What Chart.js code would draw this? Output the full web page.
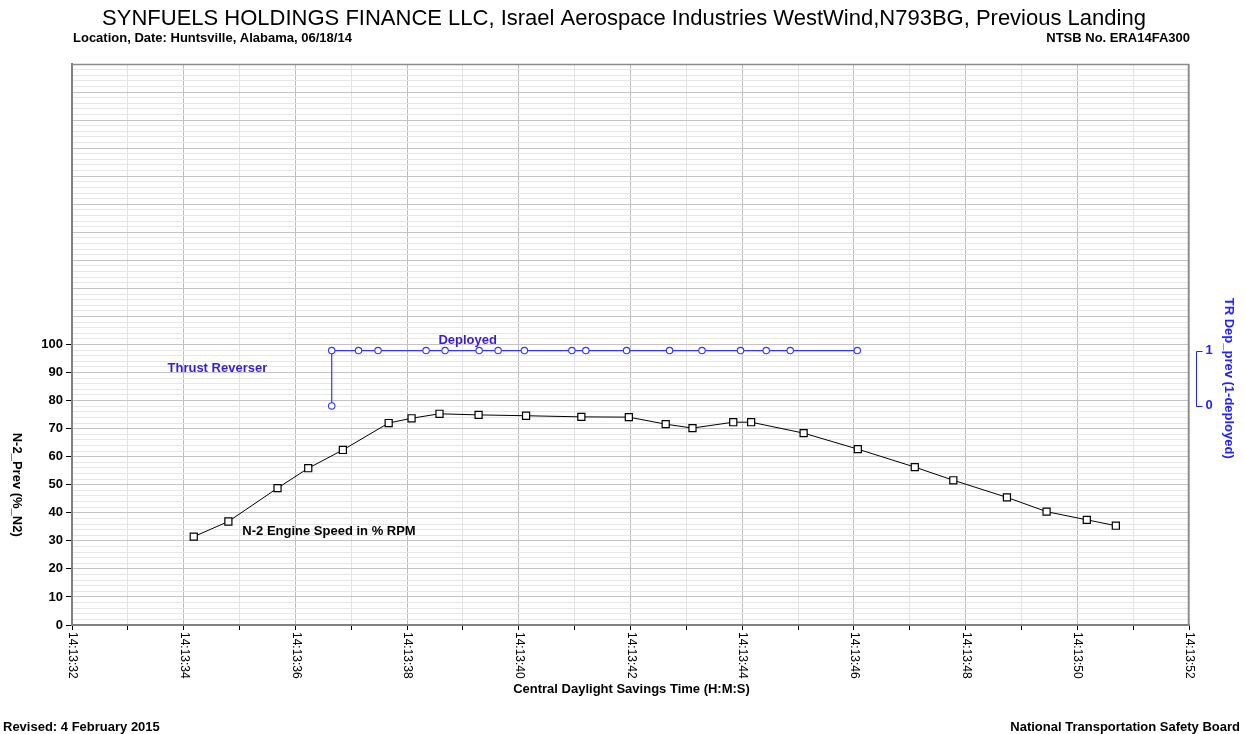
<!DOCTYPE html>
<html>
<head>
<meta charset="utf-8">
<title>N-2 Engine Speed and Thrust Reverser</title>
<script src="https://cdn.jsdelivr.net/npm/chart.js@4.4.1/dist/chart.umd.min.js"></script>
<style>
  html, body { margin: 0; padding: 0; background: #ffffff; }
  #wrap { width: 1245px; height: 734px; }
</style>
</head>
<body>
<div id="wrap"><canvas id="chart" width="1245" height="734"></canvas></div>
<script>
// Time is expressed as seconds past 14:13:00 (Central Daylight Savings Time)
const timePrefix = '14:13:';

// N-2 engine speed (% RPM)
const n2Seconds = [34.18, 34.80, 35.68, 36.23, 36.85, 37.67, 38.08, 38.58, 39.28, 40.13, 41.12, 41.97,
                   42.63, 43.11, 43.84, 44.16, 45.10, 46.07, 47.09, 47.78, 48.74, 49.45, 50.17, 50.69];
const n2Values  = [31.5, 36.9, 48.8, 55.9, 62.4, 72.0, 73.7, 75.3, 74.9, 74.6, 74.2, 74.1,
                   71.6, 70.2, 72.3, 72.3, 68.4, 62.7, 56.3, 51.6, 45.5, 40.4, 37.5, 35.4];

// Thrust reverser discrete (1 = deployed)
const trSeconds = [36.65, 36.65, 37.13, 37.48, 38.34, 38.68, 39.29, 39.63, 40.10, 40.95, 41.20,
                   41.93, 42.70, 43.28, 43.97, 44.43, 44.86, 46.06];
const trValues  = [0, 1, 1, 1, 1, 1, 1, 1, 1, 1, 1, 1, 1, 1, 1, 1, 1, 1];

// Axis ticks
const xTickSeconds = [32, 34, 36, 38, 40, 42, 44, 46, 48, 50, 52];
const leftTickValues = [0, 10, 20, 30, 40, 50, 60, 70, 80, 90, 100];
const rightTickValues = [0, 1];

// Text
const titleText = 'SYNFUELS HOLDINGS FINANCE LLC, Israel Aerospace Industries WestWind,N793BG, Previous Landing';
const locationText = 'Location, Date: Huntsville, Alabama, 06/18/14';
const caseText = 'NTSB No. ERA14FA300';
const revisedText = 'Revised: 4 February 2015';
const agencyText = 'National Transportation Safety Board';
const xTitle = 'Central Daylight Savings Time (H:M:S)';
const leftTitle = 'N-2_Prev (%_N2)';
const rightTitle = 'TR Dep_prev (1-deployed)';
const n2Label = 'N-2 Engine Speed in % RPM';
const trLabel = 'Thrust Reverser';
const deployedLabel = 'Deployed';

const FONT = '"Liberation Sans", Arial, Helvetica, sans-serif';
const BLUE_LINE = '#3535ff';
const BLUE_TEXT = '#3a1ccc';
const BLUE_AXIS = '#2222ff';

const toPoints = (xs, ys) => xs.map((x, i) => ({ x: x, y: ys[i] }));
const pad2 = v => String(v).padStart(2, '0');

const decor = {
  id: 'decor',
  afterDraw(chart) {
    const { ctx, chartArea: a } = chart;
    const x = chart.scales.x, y = chart.scales.y, y2 = chart.scales.y2;
    ctx.save();

    // top and right edges of the plot frame
    ctx.strokeStyle = '#8c8c8c';
    ctx.lineWidth = 1.5;
    ctx.beginPath();
    ctx.moveTo(a.left, a.top + 0.5);
    ctx.lineTo(a.right - 0.5, a.top + 0.5);
    ctx.lineTo(a.right - 0.5, a.bottom);
    ctx.stroke();

    // headings
    ctx.fillStyle = '#000';
    ctx.textBaseline = 'alphabetic';
    ctx.font = '22px ' + FONT;
    ctx.textAlign = 'center';
    ctx.fillText(titleText, 624, 25);
    ctx.font = 'bold 13px ' + FONT;
    ctx.textAlign = 'left';
    ctx.fillText(locationText, 73, 42);
    ctx.textAlign = 'right';
    ctx.fillText(caseText, 1190, 42);
    ctx.textAlign = 'left';
    ctx.fillText(revisedText, 3, 731);
    ctx.textAlign = 'right';
    ctx.fillText(agencyText, 1240, 731);

    // x tick labels, rotated clockwise
    ctx.font = '12px ' + FONT;
    ctx.textAlign = 'left';
    ctx.textBaseline = 'middle';
    xTickSeconds.forEach(s => {
      const px = x.getPixelForValue(s);
      ctx.save();
      ctx.translate(px + 0.5, a.bottom + 7);
      ctx.rotate(Math.PI / 2);
      ctx.fillText(timePrefix + pad2(s), 0, 0);
      ctx.restore();
    });

    // x axis title
    ctx.font = 'bold 13px ' + FONT;
    ctx.textAlign = 'center';
    ctx.fillText(xTitle, (a.left + a.right) / 2 + 1, 689);

    // left axis title, centred on the labelled range
    const yMid = (y.getPixelForValue(leftTickValues[0]) + y.getPixelForValue(leftTickValues[leftTickValues.length - 1])) / 2;
    ctx.save();
    ctx.translate(17, yMid);
    ctx.rotate(Math.PI / 2);
    ctx.fillText(leftTitle, 0, 0);
    ctx.restore();

    // right axis: bracket from 0 to 1 with its labels
    const p0 = y2.getPixelForValue(rightTickValues[0]);
    const p1 = y2.getPixelForValue(rightTickValues[1]);
    const bx = a.right + 7.5;
    ctx.strokeStyle = BLUE_AXIS;
    ctx.lineWidth = 1;
    ctx.beginPath();
    ctx.moveTo(bx + 6, Math.round(p1) + 0.5);
    ctx.lineTo(bx, Math.round(p1) + 0.5);
    ctx.lineTo(bx, Math.round(p0) + 0.5);
    ctx.lineTo(bx + 6, Math.round(p0) + 0.5);
    ctx.stroke();
    ctx.fillStyle = BLUE_AXIS;
    ctx.textAlign = 'left';
    rightTickValues.forEach(v => {
      ctx.fillText(String(v), bx + 9, y2.getPixelForValue(v));
    });
    ctx.save();
    ctx.translate(1229, (p0 + p1) / 2);
    ctx.rotate(Math.PI / 2);
    ctx.textAlign = 'center';
    ctx.fillText(rightTitle, 0, 0);
    ctx.restore();

    // series annotations
    ctx.textAlign = 'left';
    ctx.fillStyle = BLUE_TEXT;
    ctx.fillText(trLabel, x.getPixelForValue(33.71), y2.getPixelForValue(0.67));
    ctx.fillText(deployedLabel, x.getPixelForValue(38.56), y2.getPixelForValue(1.19));
    ctx.fillStyle = '#000';
    ctx.fillText(n2Label, x.getPixelForValue(35.05), y.getPixelForValue(33.2));

    ctx.restore();
  }
};

new Chart(document.getElementById('chart'), {
  type: 'line',
  data: {
    datasets: [
      {
        label: 'N2',
        data: toPoints(n2Seconds, n2Values),
        yAxisID: 'y',
        borderColor: '#000000',
        borderWidth: 1,
        pointStyle: 'rect',
        pointRadius: 5,
        pointBorderWidth: 1.2,
        pointBorderColor: '#000000',
        pointBackgroundColor: '#ffffff',
        tension: 0
      },
      {
        label: 'TR',
        data: toPoints(trSeconds, trValues),
        yAxisID: 'y2',
        borderColor: BLUE_LINE,
        borderWidth: 1.2,
        pointStyle: 'circle',
        pointRadius: 3.2,
        pointBorderWidth: 1.1,
        pointBorderColor: BLUE_LINE,
        pointBackgroundColor: '#ffffff',
        tension: 0
      }
    ]
  },
  options: {
    responsive: false,
    animation: false,
    events: [],
    layout: { padding: { top: 64, left: 0, right: 0, bottom: 0 } },
    plugins: { legend: { display: false }, tooltip: { enabled: false }, title: { display: false } },
    scales: {
      x: {
        type: 'linear',
        min: 32,
        max: 52,
        afterFit(s) { s.height = 109; },
        ticks: { display: false, stepSize: 1, autoSkip: false },
        grid: {
          color: c => (c.tick && c.tick.value % 2 === 0) ? '#bdbdbd' : '#e3e3e3',
          lineWidth: 1,
          drawTicks: true,
          tickLength: 5,
          tickColor: '#000000'
        },
        border: { display: true, color: '#808080', width: 2 }
      },
      y: {
        type: 'linear',
        position: 'left',
        min: 0,
        max: 200,
        afterFit(s) { s.width = 72; },
        ticks: {
          stepSize: 2,
          autoSkip: false,
          padding: 3,
          color: '#000000',
          font: { family: FONT, size: 13, weight: 'bold' },
          callback: v => leftTickValues.includes(v) ? String(v) : ''
        },
        grid: {
          color: c => (c.tick && c.tick.value % 10 === 0) ? '#c4c4c4' : '#e6e6e6',
          lineWidth: 1,
          drawTicks: true,
          tickLength: 6,
          tickColor: c => (c.tick && leftTickValues.includes(c.tick.value)) ? '#000000' : 'rgba(0,0,0,0)'
        },
        border: { display: true, color: '#808080', width: 2 }
      },
      y2: {
        type: 'linear',
        position: 'right',
        min: -3.96,
        max: 6.18,
        afterFit(s) { s.width = 56; },
        ticks: { display: false },
        grid: { display: false, drawOnChartArea: false, drawTicks: false },
        border: { display: false }
      }
    }
  },
  plugins: [decor]
});
</script>
</body>
</html>
